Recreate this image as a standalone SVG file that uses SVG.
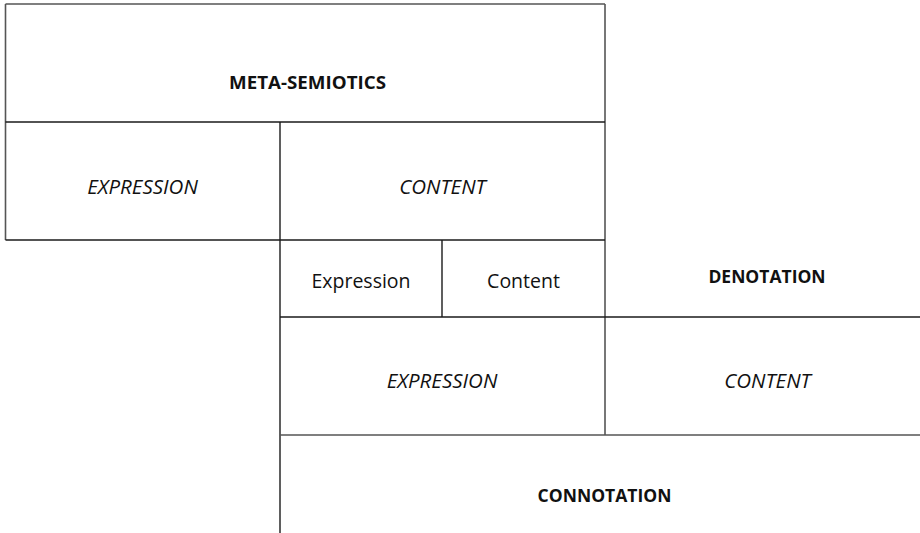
<svg xmlns="http://www.w3.org/2000/svg" width="920" height="533" viewBox="0 0 920 533">
<style>
.bg{fill:#fff}
.dk{stroke:#1a1a1a;stroke-width:1.4;fill:none}
.gr{stroke:#555;stroke-width:1.6;fill:none}
text{font-family:"Open Sans","Noto Sans","DejaVu Sans",sans-serif;fill:#111;text-anchor:middle}
.b{font-weight:bold;font-size:17.5px}
.i{font-style:italic;font-size:20.5px}
.r{font-size:19.5px}
</style>
<rect class="bg" x="0" y="0" width="920" height="533"/>
<g id="lines">
<line class="gr" x1="5.5" y1="4" x2="605" y2="4"/>
<line class="gr" x1="5.5" y1="4" x2="5.5" y2="240"/>
<line class="gr" x1="605" y1="4" x2="605" y2="435"/>
<line class="dk" x1="5.5" y1="122" x2="605" y2="122"/>
<line class="dk" x1="5.5" y1="240" x2="605" y2="240"/>
<line class="dk" x1="280" y1="122" x2="280" y2="533"/>
<line class="dk" x1="442" y1="240" x2="442" y2="317"/>
<line class="dk" x1="280" y1="317" x2="920" y2="317"/>
<line class="gr" x1="280" y1="435" x2="920" y2="435"/>
</g>
<g id="meta-semiotics"><text class="b" x="307.5" y="89" textLength="157" lengthAdjust="spacingAndGlyphs">META-SEMIOTICS</text></g>
<g id="meta-expression"><text class="i" x="142.5" y="194">EXPRESSION</text></g>
<g id="meta-content"><text class="i" x="442.5" y="194">CONTENT</text></g>
<g id="expression"><text class="r" x="361" y="288">Expression</text></g>
<g id="content"><text class="r" x="523.5" y="288">Content</text></g>
<g id="denotation"><text class="b" x="767" y="283">DENOTATION</text></g>
<g id="connotation-expression"><text class="i" x="442" y="388">EXPRESSION</text></g>
<g id="connotation-content"><text class="i" x="767.5" y="388">CONTENT</text></g>
<g id="connotation"><text class="b" x="604.5" y="502">CONNOTATION</text></g>
</svg>
